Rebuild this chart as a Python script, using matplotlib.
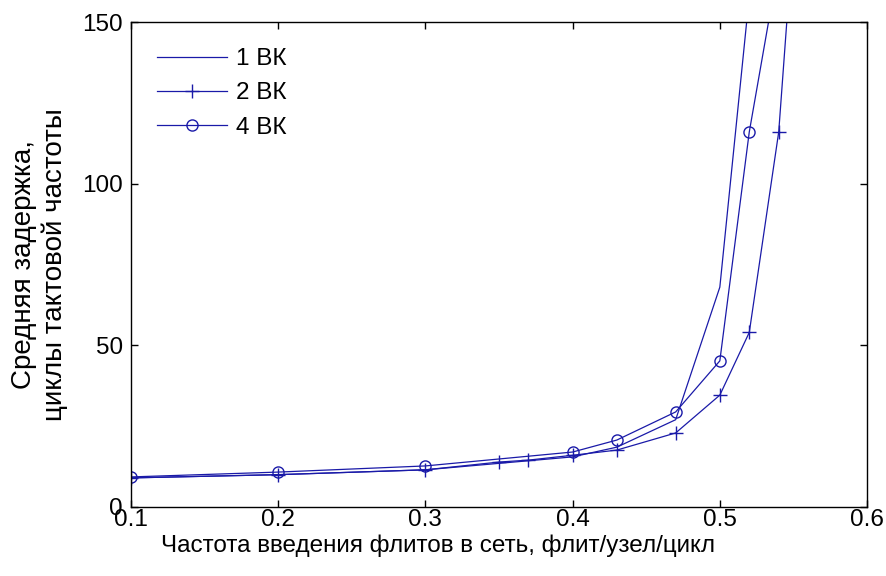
import matplotlib
matplotlib.use("Agg")
import matplotlib.pyplot as plt

plt.rcParams['font.family'] = ['Liberation Sans', 'DejaVu Sans']

x1 = [0.1, 0.2, 0.3, 0.4, 0.43, 0.47, 0.5, 0.52]
y1 = [9.0, 10.0, 11.5, 15.5, 18.5, 27.0, 68.0, 158.0]

x2 = [0.1, 0.2, 0.3, 0.35, 0.37, 0.4, 0.43, 0.47, 0.5, 0.52, 0.54, 0.55]
y2 = [9.0, 10.0, 11.5, 13.9, 14.5, 16.0, 17.6, 22.9, 34.6, 54.0, 116.0, 178.0]

x4 = [0.1, 0.2, 0.3, 0.4, 0.43, 0.47, 0.5, 0.52, 0.54]
y4 = [9.3, 10.8, 12.7, 17.0, 20.7, 29.4, 45.2, 116.0, 168.0]

labels = ['1 ВК', '2 ВК', '4 ВК']
xticks = [0.1, 0.2, 0.3, 0.4, 0.5, 0.6]
xticklabels = ['0.1', '0.2', '0.3', '0.4', '0.5', '0.6']
yticks = [0, 50, 100, 150]

color = '#1a1aa8'
fs = 17.5

fig = plt.figure(figsize=(8.87, 5.76), dpi=100)
ax = fig.add_axes([0.1477, 0.1198, 0.8298, 0.842])

ax.plot(x1, y1, '-', color=color, lw=0.9, label=labels[0])
ax.plot(x2, y2, '-', color=color, lw=0.9, marker='+', ms=10, mew=1.0, label=labels[1])
ax.plot(x4, y4, '-', color=color, lw=0.9, marker='o', ms=8, mfc='none', mew=1.0, label=labels[2])

ax.set_xlim(0.1, 0.6)
ax.set_ylim(0, 150)
ax.set_xticks(xticks)
ax.set_xticklabels(xticklabels)
ax.set_yticks(yticks)
ax.tick_params(direction='in', length=5, width=1, top=True, right=True,
               labelsize=fs)
ax.tick_params(axis='x', pad=1.5)
ax.tick_params(axis='y', pad=6)
for s in ax.spines.values():
    s.set_linewidth(1.0)

ax.set_xlabel('Частота введения флитов в сеть, флит/узел/цикл', fontsize=fs)
ax.xaxis.set_label_coords(0.417, -0.057)
ax.set_ylabel('Средняя задержка,\nциклы тактовой частоты', fontsize=20,
              linespacing=1.2)
ax.yaxis.set_label_coords(-0.086, 0.5)

leg = ax.legend(loc='upper left', frameon=False, fontsize=fs, handlelength=2.85,
                handletextpad=0.4, labelspacing=0.5, borderaxespad=0.68)

fig.savefig('out.png', dpi=100)
